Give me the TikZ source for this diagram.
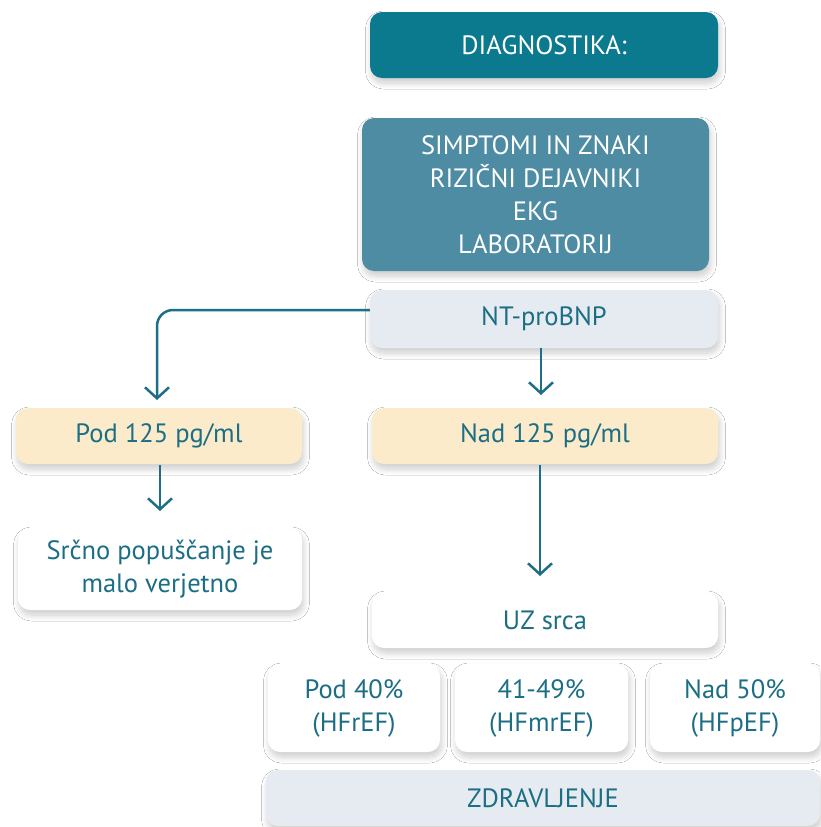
\documentclass[tikz,border=0pt]{standalone}
\usepackage{fontspec}
\setmainfont{PT Sans}
\usetikzlibrary{arrows.meta,shadows.blur}
\definecolor{darkteal}{HTML}{0B7A8F}
\definecolor{midteal}{HTML}{4E8CA4}
\definecolor{lightgrey}{HTML}{E5EBF0}
\definecolor{beige}{HTML}{FCEBCB}
\definecolor{txtteal}{HTML}{1B6E84}
\definecolor{arrteal}{HTML}{1D6E86}
\tikzset{
  box/.style={rounded corners=12pt, inner sep=0pt, align=center,
    font=\fontsize{26.5}{33}\selectfont,
    blur shadow={shadow blur steps=10, shadow xshift=1.5pt, shadow yshift=-5pt, shadow opacity=20, shadow blur radius=6pt}},
  darkbox/.style={box, fill=darkteal, text=white},
  midbox/.style={box, fill=midteal, text=white},
  greybox/.style={box, fill=lightgrey, text=txtteal},
  beigebox/.style={box, fill=beige, text=txtteal},
  whitebox/.style={box, fill=white, text=txtteal},
  conn/.style={draw=arrteal, line width=2.5pt, -{Straight Barb[length=11pt,width=24pt,line width=2.5pt]}}
}
\begin{document}
\begin{tikzpicture}[x=1pt,y=-1pt]
\useasboundingbox (0,0) rectangle (820,827);
\fill[white] (0,0) rectangle (820,827);
\node[darkbox, minimum width=348pt, minimum height=66pt] (diag) at (544,45) {DIAGNOSTIKA:};
\node[midbox, minimum width=347pt, minimum height=153pt] (risk) at (535.5,194.5) {SIMPTOMI IN ZNAKI\\RIZIČNI DEJAVNIKI\\EKG\\LABORATORIJ};
\node[greybox, minimum width=348pt, minimum height=58pt] (nt) at (544,319) {NT-proBNP};
\node[beigebox, minimum width=286pt, minimum height=56pt] (pod) at (159,436) {Pod 125 pg/ml};
\node[beigebox, minimum width=346pt, minimum height=56pt] (nad) at (545,436) {Nad 125 pg/ml};
\node[whitebox, minimum width=284pt, minimum height=82pt] (srcno) at (160,569) {Srčno popuščanje je\\malo verjetno};
\node[whitebox, minimum width=346pt, minimum height=56pt] (uz) at (545,620) {UZ srca};
\node[whitebox, minimum width=172pt, minimum height=88pt] (hfr) at (354,708) {Pod 40\%\\(HFrEF)};
\node[whitebox, minimum width=173pt, minimum height=88pt] (hfm) at (541.5,708) {41-49\%\\(HFmrEF)};
\node[whitebox, minimum width=170pt, minimum height=88pt] (hfp) at (735,708) {Nad 50\%\\(HFpEF)};
\node[greybox, minimum width=554pt, minimum height=56pt] (zdr) at (543,798) {ZDRAVLJENJE};

\draw[conn, rounded corners=16pt] (nt.west |- 0,310) -- (157,310) -- (157,400);
\draw[conn] (541,348) -- (541,395);
\draw[conn] (160,465) -- (160,511);
\draw[conn] (540,465) -- (540,576);
\end{tikzpicture}
\end{document}
